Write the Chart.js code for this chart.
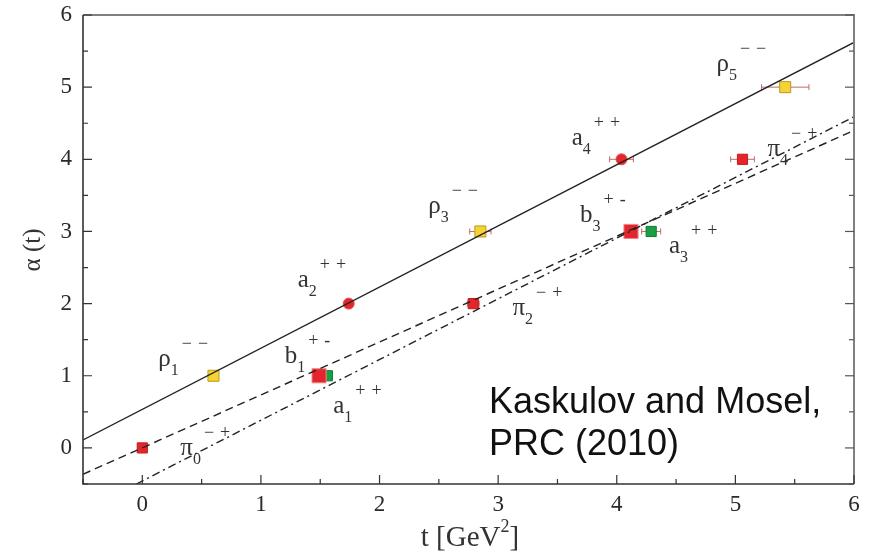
<!DOCTYPE html>
<html>
<head>
<meta charset="utf-8">
<script src="https://cdn.jsdelivr.net/npm/chart.js@4/dist/chart.umd.min.js"></script>
<style>
html, body { margin: 0; padding: 0; background: #fff; }
#wrap { width: 876px; height: 558px; }
</style>
</head>
<body>
<div id="wrap"><canvas id="chart"></canvas></div>
<script>
// Regge trajectories, end points
const solidLine = [{x: -0.5, y: 0.11}, {x: 6, y: 5.62}];
const dashedLine = [{x: -0.5, y: -0.365}, {x: 6, y: 4.40}];
const dashDotLine = [{x: -0.05, y: -0.5}, {x: 6, y: 4.59}];

// mesons (t = mass squared, alpha = spin)
const yellowPts = [{x: 0.6, y: 1}, {x: 2.85, y: 3}, {x: 5.42, y: 5}];
const yellowErr = [0, 0.09, 0.2];
const redSquares = [{x: 0, y: 0}, {x: 2.79, y: 2}, {x: 5.06, y: 4}];
const redSqErr = [0, 0.05, 0.1];
const redBig = [{x: 1.49, y: 1}, {x: 4.12, y: 3}];
const greenPts = [{x: 1.56, y: 1}, {x: 4.29, y: 3}];
const greenErr = [0, 0.08];
const redCircles = [{x: 1.74, y: 2}, {x: 4.04, y: 4}];
const circleErr = [0, 0.1];

// state labels
const labelNames = ['ρ', 'π', 'b', 'a', 'a', 'ρ', 'π', 'a', 'b', 'a', 'ρ', 'π'];
const labelSubs = ['1', '0', '1', '1', '2', '3', '2', '4', '3', '3', '5', '4'];
const labelSups = ['− −', '− +', '+ -', '+ +', '+ +', '− −', '− +', '+ +', '+ -', '+ +', '− −', '− +'];
const labelX = [0.135, 0.32, 1.20, 1.61, 1.31, 2.41, 3.12, 3.62, 3.69, 4.44, 4.84, 5.27];
const labelY = [1.14, -0.10, 1.18, 0.485, 2.23, 3.25, 1.84, 4.20, 3.13, 2.70, 5.23, 4.04];

const tickValues = [0, 1, 2, 3, 4, 5, 6];

const serif = '"Liberation Serif", "DejaVu Serif", serif';

function lineSet(pts, dash) {
    return {
        type: 'line', data: pts, showLine: true, pointRadius: 0,
        borderColor: '#222', borderWidth: 1.4, borderDash: dash, fill: false
    };
}
function pointSet(pts, style, r, fill, border, err) {
    return {
        type: 'scatter', data: pts, pointStyle: style, pointRadius: r, pointHoverRadius: r,
        backgroundColor: fill, borderColor: border, borderWidth: 1, xErr: err
    };
}

const errorBars = {
    id: 'errorBars',
    beforeDatasetsDraw(chart) {
        const ctx = chart.ctx, xs = chart.scales.x, ys = chart.scales.y;
        ctx.save();
        ctx.strokeStyle = '#c06a6a';
        ctx.lineWidth = 1;
        chart.data.datasets.forEach(ds => {
            if (!ds.xErr) return;
            ds.data.forEach((p, i) => {
                const e = ds.xErr[i];
                if (!e) return;
                const x1 = xs.getPixelForValue(p.x - e), x2 = xs.getPixelForValue(p.x + e);
                const y = ys.getPixelForValue(p.y);
                ctx.beginPath();
                ctx.moveTo(x1, y); ctx.lineTo(x2, y);
                ctx.moveTo(x1, y - 3); ctx.lineTo(x1, y + 3);
                ctx.moveTo(x2, y - 3); ctx.lineTo(x2, y + 3);
                ctx.stroke();
            });
        });
        ctx.restore();
    }
};

function drawSup(ctx, text, x, y) {
    // spread the signs a bit, like the original typesetting
    let cx = x;
    for (const ch of text) {
        if (ch === ' ') { cx += 5; continue; }
        ctx.fillText(ch, cx, y);
        cx += ctx.measureText(ch).width + 1;
    }
}

const decorations = {
    id: 'decorations',
    afterDraw(chart) {
        const ctx = chart.ctx, xs = chart.scales.x, ys = chart.scales.y;
        const a = chart.chartArea;
        ctx.save();
        // frame
        ctx.lineWidth = 2;
        ctx.strokeStyle = '#808080';
        ctx.beginPath();
        ctx.moveTo(a.left, a.top); ctx.lineTo(a.right, a.top); ctx.lineTo(a.right, a.bottom);
        ctx.stroke();
        ctx.strokeStyle = '#333';
        ctx.lineWidth = 1.6;
        ctx.beginPath();
        ctx.moveTo(a.left, a.top); ctx.lineTo(a.left, a.bottom); ctx.lineTo(a.right, a.bottom);
        ctx.stroke();

        // inward ticks, major on integers, minor on halves
        ctx.lineWidth = 1.2;
        for (let v = -0.5; v <= 6; v += 0.5) {
            const len = Number.isInteger(v) ? 9 : 5;
            const px = xs.getPixelForValue(v);
            const py = ys.getPixelForValue(v);
            ctx.strokeStyle = '#333';
            ctx.beginPath();
            ctx.moveTo(px, a.bottom); ctx.lineTo(px, a.bottom - len);
            ctx.moveTo(a.left, py); ctx.lineTo(a.left + len, py);
            ctx.stroke();
            ctx.strokeStyle = '#555';
            ctx.beginPath();
            ctx.moveTo(a.right, py); ctx.lineTo(a.right - len, py);
            ctx.stroke();
        }

        // state labels
        ctx.fillStyle = '#333';
        ctx.textBaseline = 'alphabetic';
        ctx.textAlign = 'left';
        labelNames.forEach((n, i) => {
            const x0 = xs.getPixelForValue(labelX[i]);
            const y0 = ys.getPixelForValue(labelY[i]);
            ctx.font = '25px ' + serif;
            ctx.fillText(n, x0, y0);
            const w = ctx.measureText(n).width;
            ctx.font = '16px ' + serif;
            ctx.fillText(labelSubs[i], x0 + w, y0 + 9);
            const sw = ctx.measureText(labelSubs[i]).width;
            ctx.font = '18px ' + serif;
            drawSup(ctx, labelSups[i], x0 + w + sw + 3, y0 - 17);
        });

        // axis titles
        ctx.font = '25px ' + serif;
        ctx.save();
        ctx.translate(33, 250);
        ctx.rotate(-Math.PI / 2);
        ctx.textAlign = 'center';
        ctx.textBaseline = 'middle';
        ctx.fillText('α (t)', 0, 0);
        ctx.restore();

        const t1 = 't [GeV', t2 = '2', t3 = ']';
        const big = '29px ' + serif, small = '18px ' + serif;
        ctx.font = big;
        const w1 = ctx.measureText(t1).width, w3 = ctx.measureText(t3).width;
        ctx.font = small;
        const w2 = ctx.measureText(t2).width;
        const tx = 470 - (w1 + w2 + w3) / 2;
        const ty = 546;
        ctx.font = big;
        ctx.fillText(t1, tx, ty);
        ctx.font = small;
        ctx.fillText(t2, tx + w1, ty - 14);
        ctx.font = big;
        ctx.fillText(t3, tx + w1 + w2, ty);

        // citation
        ctx.fillStyle = '#111';
        ctx.font = '36px "Liberation Sans", Arial, sans-serif';
        ctx.fillText('Kaskulov and Mosel,', 489, 413);
        ctx.fillText('PRC (2010)', 489, 455);
        ctx.restore();
    }
};

const ctx = document.getElementById('chart').getContext('2d');
new Chart(ctx, {
    data: {
        datasets: [
            lineSet(solidLine, []),
            lineSet(dashedLine, [8, 5]),
            lineSet(dashDotLine, [8, 4, 2, 4]),
            pointSet(yellowPts, 'rect', 7.8, '#f6d335', '#b89a20', yellowErr),
            pointSet(redSquares, 'rect', 7.2, '#e2262c', '#c41a1a', redSqErr),
            pointSet(redBig, 'rect', 10, '#e2262c', '#f08a8a', null),
            pointSet(greenPts, 'rect', 7.2, '#17a045', '#117a32', greenErr),
            pointSet(redCircles, 'circle', 5.5, '#e2262c', '#e05050', circleErr)
        ]
    },
    options: {
        responsive: true,
        maintainAspectRatio: false,
        animation: false,
        layout: { padding: { top: 15, right: 22, left: 0, bottom: 0 } },
        plugins: { legend: { display: false }, tooltip: { enabled: false } },
        scales: {
            x: {
                type: 'linear', min: -0.5, max: 6,
                grid: { display: false, drawTicks: false }, border: { display: false },
                afterFit: s => { s.height = 74; s.paddingLeft = 0; s.paddingRight = 0; },
                afterBuildTicks: s => { s.ticks = tickValues.map(v => ({value: v})); },
                ticks: { padding: 7, maxRotation: 0, color: '#2a2a2a', font: { family: serif, size: 23 } }
            },
            y: {
                type: 'linear', min: -0.5, max: 6,
                grid: { display: false, drawTicks: false }, border: { display: false },
                afterFit: s => { s.width = 83; s.paddingTop = 0; s.paddingBottom = 0; },
                afterBuildTicks: s => { s.ticks = tickValues.map(v => ({value: v})); },
                ticks: { padding: 11, color: '#2a2a2a', font: { family: serif, size: 23 } }
            }
        }
    },
    plugins: [errorBars, decorations]
});
</script>
</body>
</html>
